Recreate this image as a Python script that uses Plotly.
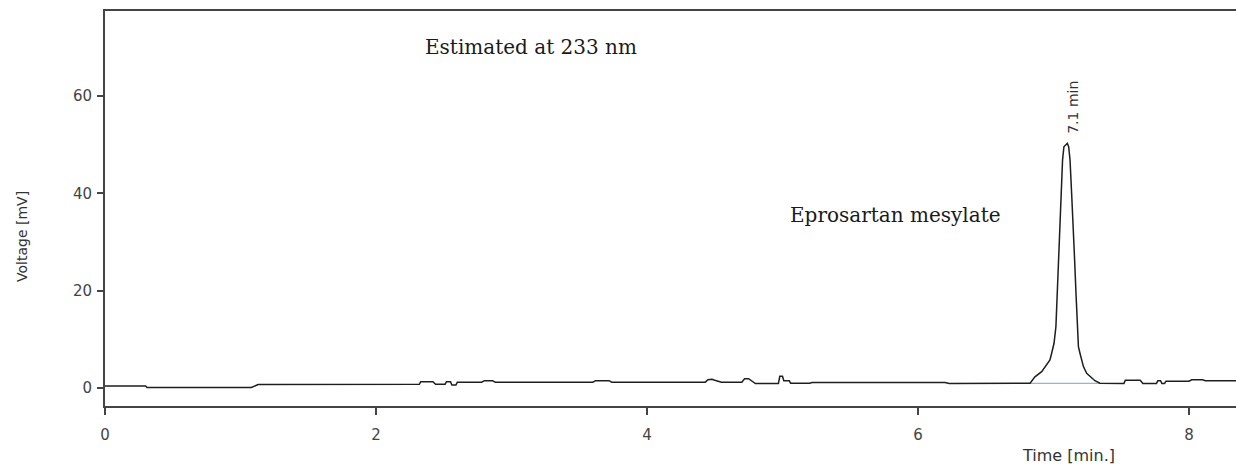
import plotly.graph_objects as go

# Chromatogram trace (time in min, voltage in mV)
time_min = [0.00, 0.30, 0.31, 1.08, 1.13, 2.32, 2.33, 2.42, 2.44, 2.51, 2.52, 2.55, 2.56, 2.59, 2.60,
            2.78, 2.80, 2.86, 2.88, 3.60, 3.62, 3.72, 3.74, 4.43, 4.45, 4.48, 4.50, 4.53, 4.55,
            4.70, 4.72, 4.75, 4.78, 4.80, 4.97, 4.98, 5.00, 5.01, 5.05, 5.06, 5.20, 5.22,
            6.20, 6.23, 6.827, 6.863, 6.913, 6.937, 6.974, 6.986, 7.004, 7.018, 7.028, 7.038,
            7.048, 7.058, 7.067, 7.077, 7.102, 7.112, 7.122, 7.134, 7.147, 7.156, 7.166, 7.176,
            7.184, 7.196, 7.221, 7.245, 7.270, 7.306, 7.343, 7.52, 7.53, 7.64, 7.66, 7.76,
            7.77, 7.79, 7.80, 7.82, 7.83, 8.00, 8.02, 8.10, 8.12, 8.35]
voltage_mv = [0.4, 0.4, 0.1, 0.1, 0.7, 0.75, 1.3, 1.3, 0.75, 0.75, 1.3, 1.3, 0.6, 0.6, 1.2,
              1.2, 1.5, 1.5, 1.2, 1.2, 1.5, 1.5, 1.2, 1.2, 1.7, 1.8, 1.6, 1.3, 1.2,
              1.2, 1.9, 1.9, 1.2, 0.9, 0.9, 2.4, 2.4, 1.5, 1.5, 1.0, 1.0, 1.15,
              1.15, 0.95, 1.0, 2.3, 3.35, 4.4, 5.75, 7.1, 9.2, 12.6, 19.5, 26.3,
              31.8, 40.0, 46.9, 49.6, 50.3, 49.6, 46.9, 40.0, 33.1, 26.3, 19.5, 12.6,
              8.5, 7.1, 4.4, 3.0, 2.3, 1.5, 1.0, 0.95, 1.6, 1.6, 0.95, 0.95,
              1.5, 1.5, 0.95, 0.95, 1.4, 1.4, 1.7, 1.7, 1.5, 1.5]

# Integration baseline under the main peak
base_time = [6.827, 7.343]
base_volt = [0.95, 0.95]

x_ticks = [0, 2, 4, 6, 8]
y_ticks = [0, 20, 40, 60]

fig = go.Figure()
fig.add_trace(go.Scatter(x=base_time, y=base_volt, mode="lines",
                         line=dict(color="#8db8d8", width=1.2), hoverinfo="skip"))
fig.add_trace(go.Scatter(x=time_min, y=voltage_mv, mode="lines",
                         line=dict(color="#1e1e1e", width=1.5)))

fig.add_annotation(x=3.144, y=70.1, text="Estimated at 233 nm", showarrow=False,
                   xanchor="center", yanchor="middle",
                   font=dict(family="DejaVu Serif", size=20, color="#1a1a1a"))
fig.add_annotation(x=5.834, y=35.6, text="Eprosartan mesylate", showarrow=False,
                   xanchor="center", yanchor="middle",
                   font=dict(family="DejaVu Serif", size=20, color="#1a1a1a"))
fig.add_annotation(x=7.144, y=57.6, text="7.1 min", showarrow=False, textangle=-90,
                   xanchor="center", yanchor="middle",
                   font=dict(family="DejaVu Sans", size=14, color="#333333"))
fig.add_annotation(xref="paper", yref="paper", x=(1068 - 105) / 1131, y=-(455 - 406) / 395,
                   text="Time [min.]", showarrow=False, xanchor="center", yanchor="middle",
                   font=dict(family="DejaVu Sans", size=16, color="#333333"))
fig.add_annotation(xref="paper", yref="paper", x=-(105 - 22) / 1131, y=(406 - 237) / 395,
                   text="Voltage [mV]", showarrow=False, textangle=-90,
                   xanchor="center", yanchor="middle",
                   font=dict(family="DejaVu Sans", size=14, color="#333333"))
# small extension of the y axis line below the x axis
fig.add_shape(type="line", xref="paper", yref="paper", x0=0, x1=0, y0=0, y1=-7 / 395,
              line=dict(color="#444444", width=2))

fig.update_layout(
    width=1236, height=465,
    margin=dict(l=105, r=0, t=11, b=59),
    paper_bgcolor="white", plot_bgcolor="white",
    showlegend=False,
    font=dict(family="DejaVu Sans", size=15, color="#444444"),
)
fig.update_xaxes(range=[0, 8.347], tickvals=x_ticks, ticktext=[str(v) for v in x_ticks],
                 showgrid=False, zeroline=False, showline=True, mirror=True,
                 linecolor="#444444", linewidth=2, ticks="outside", ticklen=7,
                 tickcolor="#444444", tickwidth=1.5, ticklabelstandoff=7)
fig.update_yaxes(range=[-3.7, 77.5], tickvals=y_ticks, ticktext=[str(v) for v in y_ticks],
                 showgrid=False, zeroline=False, showline=True, mirror=False,
                 linecolor="#444444", linewidth=2, ticks="outside", ticklen=6,
                 tickcolor="#444444", tickwidth=1.5, ticklabelstandoff=2)

fig.write_html("out.html", config={"displayModeBar": False},
               post_script="document.body.style.margin='0';document.body.style.overflow='hidden';")
